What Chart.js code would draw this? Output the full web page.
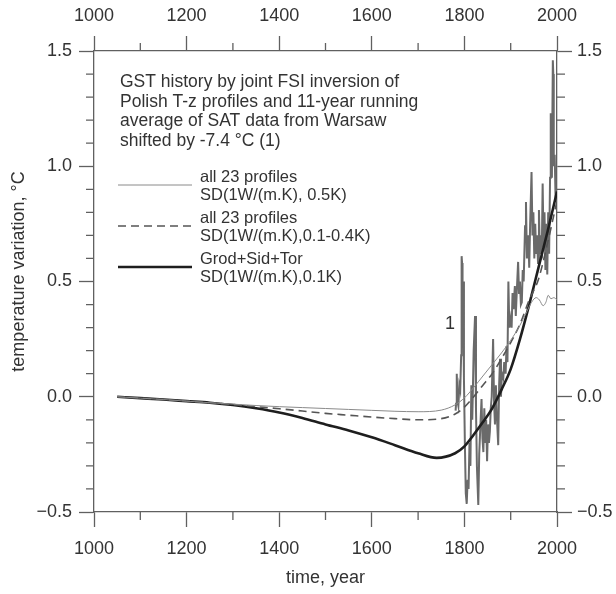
<!DOCTYPE html>
<html>
<head>
<meta charset="utf-8">
<script src="https://cdn.jsdelivr.net/npm/chart.js@4.4.1/dist/chart.umd.min.js"></script>
<style>
  html, body { margin: 0; padding: 0; background: #ffffff; }
  #wrap { width: 616px; height: 594px; }
</style>
</head>
<body>
<div id="wrap"><canvas id="c" width="616" height="594"></canvas></div>
<script>
// ---- data ----
const xTickLabels = [1000, 1200, 1400, 1600, 1800, 2000];
const yTickLabels = [-0.5, 0.0, 0.5, 1.0, 1.5];

// all 23 profiles, SD(1W/(m.K), 0.5K) - thin solid
const yearsA = [1050,1100,1150,1200,1250,1300,1350,1400,1450,1500,1550,1600,1650,1700,1750,1780,1800,1820,1840,1860,1880,1900,1920,1935,1945,1955,1962,1970,1976,1981,1987,1993,2000];
const valsA  = [0,-0.006,-0.012,-0.019,-0.026,-0.032,-0.038,-0.043,-0.047,-0.051,-0.055,-0.059,-0.063,-0.065,-0.058,-0.035,-0.005,0.04,0.09,0.14,0.19,0.245,0.31,0.37,0.41,0.43,0.42,0.395,0.41,0.44,0.425,0.43,0.42];

// all 23 profiles, SD(1W/(m.K),0.1-0.4K) - dashed
const yearsB = [1050,1100,1150,1200,1250,1300,1350,1400,1450,1500,1550,1600,1650,1700,1750,1780,1800,1820,1840,1860,1880,1900,1920,1940,1960,1980,2000];
const valsB  = [0,-0.006,-0.012,-0.019,-0.026,-0.034,-0.043,-0.052,-0.062,-0.072,-0.08,-0.088,-0.095,-0.1,-0.095,-0.075,-0.045,0.0,0.05,0.1,0.165,0.235,0.315,0.42,0.51,0.67,0.85];

// Grod+Sid+Tor, SD(1W/(m.K),0.1K) - thick solid
const yearsC = [1050,1100,1150,1200,1250,1300,1350,1400,1450,1500,1550,1600,1650,1700,1740,1780,1800,1820,1840,1860,1880,1900,1920,1940,1960,1980,2000];
const valsC  = [0,-0.006,-0.012,-0.019,-0.026,-0.036,-0.05,-0.068,-0.092,-0.12,-0.146,-0.176,-0.21,-0.245,-0.265,-0.245,-0.215,-0.165,-0.11,-0.05,0.03,0.12,0.25,0.4,0.56,0.72,0.89];

// (1) 11-year running average of SAT, Warsaw, shifted by -7.4 °C
const yearsSAT = [1781,1782,1783,1784,1785,1787,1789,1791,1793,1794,1795,1796,1797,1799,1801,1803,1805,1807,1809,1811,1813,1815,1817,1820,1823,1825,1827,1830,1832,1834,1837,1839,1841,1843,1845,1847,1849,1851,1853,1855,1857,1859,1862,1864,1866,1868,1870,1873,1875,1877,1879,1881,1884,1886,1889,1891,1893,1895,1897,1900,1902,1904,1906,1909,1911,1913,1916,1918,1920,1922,1924,1926,1928,1931,1933,1935,1938,1940,1942,1945,1947,1949,1951,1953,1955,1957,1959,1961,1963,1965,1967,1969,1971,1973,1975,1977,1979,1981,1983,1985,1986,1987,1988,1989,1991,1992,1993,1995,1997,1999];
const valsSAT  = [-0.06,-0.03,0.07,0.10,-0.02,-0.04,0.05,0.03,0.18,0.61,0.58,0.30,0.50,0.08,-0.20,-0.42,-0.465,-0.36,-0.40,-0.20,-0.30,0.05,-0.10,0.20,0.35,-0.05,-0.30,-0.47,-0.25,-0.15,-0.01,-0.18,-0.24,-0.05,-0.20,-0.10,-0.28,-0.12,-0.20,-0.15,-0.05,0.00,0.25,-0.02,-0.12,0.05,-0.08,-0.21,0.05,0.165,0.0,0.10,0.08,0.15,0.10,0.22,0.15,0.50,0.30,0.34,0.30,0.45,0.38,0.48,0.35,0.45,0.585,0.45,0.50,0.40,0.41,0.55,0.50,0.74,0.845,0.60,0.70,0.56,0.75,0.975,0.70,0.80,0.60,0.75,0.62,0.70,0.58,0.81,0.62,0.70,0.60,0.925,0.65,0.80,0.55,0.75,0.53,0.80,0.62,0.95,1.23,1.13,1.20,0.95,1.46,1.40,1.00,1.05,0.85,0.88];

const annotationLines = [
  'GST history by joint FSI inversion of',
  'Polish T-z profiles and 11-year running',
  'average of SAT data from Warsaw',
  'shifted by -7.4 \u00B0C (1)'
];
const legendItems = [
  ['all 23 profiles', 'SD(1W/(m.K), 0.5K)'],
  ['all 23 profiles', 'SD(1W/(m.K),0.1-0.4K)'],
  ['Grod+Sid+Tor', 'SD(1W/(m.K),0.1K)']
];
const seriesLabel = '1';
const xTitle = 'time, year';
const yTitle = '    temperature variation, \u00B0C';

// ---- build ----
const pts = (xs, ys) => xs.map((v, i) => ({x: v, y: ys[i]}));
const FONT = "'Liberation Sans', Arial, Helvetica, sans-serif";
const AXIS = '#606060';
const TEXT = '#333333';

const styleA = {color: '#8a8a8a', width: 1, dash: []};
const styleB = {color: '#555555', width: 1.6, dash: [8, 5]};
const styleC = {color: '#1e1e1e', width: 2.6, dash: []};

const fmtY = v => { const s = Math.abs(v).toFixed(1); return v < 0 ? '\u2212' + s : s; };

function xScale(pos, h) {
  return {
    type: 'linear', position: pos, min: 1000, max: 2000,
    afterBuildTicks: s => { s.ticks = xTickLabels.map(v => ({value: v})); },
    afterFit: s => { s.height = h; },
    grid: { drawOnChartArea: false, drawTicks: true, tickLength: 15, tickColor: AXIS, tickWidth: 1.3 },
    border: { display: true, color: AXIS, width: 1.3 },
    ticks: { color: TEXT, font: {family: FONT, size: 18}, padding: pos === 'bottom' ? 11 : 9, maxRotation: 0, autoSkip: false, callback: v => String(v) },
    title: pos === 'bottom' ? { display: true, text: xTitle, color: TEXT, font: {family: FONT, size: 18}, padding: {top: 0, bottom: 5} } : {display: false}
  };
}
function yScale(pos, w) {
  return {
    type: 'linear', position: pos, min: -0.5, max: 1.5,
    afterBuildTicks: s => { s.ticks = yTickLabels.map(v => ({value: v})); },
    afterFit: s => { s.width = w; },
    grid: { drawOnChartArea: false, drawTicks: true, tickLength: 15, tickColor: AXIS, tickWidth: 1.3 },
    border: { display: true, color: AXIS, width: 1.3 },
    ticks: { color: TEXT, font: {family: FONT, size: 18}, padding: pos === 'left' ? 7 : 5, callback: v => fmtY(v) },
    title: pos === 'left' ? { display: true, text: yTitle, color: TEXT, font: {family: FONT, size: 18}, padding: {top: 8, bottom: 0} } : {display: false}
  };
}

const extras = {
  id: 'extras',
  afterDraw(chart) {
    const ctx = chart.ctx;
    const a = chart.chartArea;
    const sx = chart.scales.x, sy = chart.scales.y;
    ctx.save();
    // minor ticks
    ctx.strokeStyle = AXIS; ctx.lineWidth = 1.3; ctx.setLineDash([]);
    for (let v = 1100; v < 2000; v += 200) {
      const px = sx.getPixelForValue(v);
      ctx.beginPath();
      ctx.moveTo(px, a.bottom); ctx.lineTo(px, a.bottom + 8);
      ctx.moveTo(px, a.top); ctx.lineTo(px, a.top - 8);
      ctx.stroke();
    }
    for (let k = -4; k <= 14; k++) {
      if (k % 5 === 0) continue;
      const py = sy.getPixelForValue(k / 10);
      ctx.beginPath();
      ctx.moveTo(a.left, py); ctx.lineTo(a.left - 8, py);
      ctx.moveTo(a.right, py); ctx.lineTo(a.right + 8, py);
      ctx.stroke();
    }
    // annotation text
    ctx.fillStyle = TEXT;
    ctx.textBaseline = 'middle';
    ctx.textAlign = 'left';
    ctx.font = '17.5px ' + FONT;
    annotationLines.forEach((t, i) => ctx.fillText(t, 120, 82 + i * 19.7));
    // legend
    const styles = [styleA, styleB, styleC];
    const ys = [177, 218, 259];
    ctx.font = '16.5px ' + FONT;
    legendItems.forEach((lines, i) => {
      const st = styles[i];
      const ly = ys[i] + 8;
      ctx.beginPath();
      ctx.strokeStyle = st.color; ctx.lineWidth = st.width; ctx.setLineDash(st.dash);
      ctx.moveTo(118, ly); ctx.lineTo(192, ly); ctx.stroke();
      ctx.setLineDash([]);
      ctx.fillStyle = TEXT;
      ctx.fillText(lines[0], 200, ys[i]);
      ctx.fillText(lines[1], 200, ys[i] + 18);
    });
    // series label "1"
    ctx.font = '18px ' + FONT;
    ctx.fillText(seriesLabel, 445, 324);
    ctx.restore();
  }
};

new Chart(document.getElementById('c'), {
  type: 'line',
  data: {
    datasets: [
      { label: 'A', data: pts(yearsA, valsA), borderColor: styleA.color, borderWidth: styleA.width, pointRadius: 0, cubicInterpolationMode: 'monotone', fill: false, xAxisID: 'x', yAxisID: 'y' },
      { label: 'B', data: pts(yearsB, valsB), borderColor: styleB.color, borderWidth: styleB.width, borderDash: styleB.dash, pointRadius: 0, cubicInterpolationMode: 'monotone', fill: false, xAxisID: 'x', yAxisID: 'y' },
      { label: 'C', data: pts(yearsC, valsC), borderColor: styleC.color, borderWidth: styleC.width, pointRadius: 0, cubicInterpolationMode: 'monotone', fill: false, xAxisID: 'x', yAxisID: 'y' },
      { label: 'SAT', data: pts(yearsSAT, valsSAT), borderColor: '#6a6a6a', borderWidth: 2, pointRadius: 0, tension: 0, fill: false, xAxisID: 'x', yAxisID: 'y' }
    ]
  },
  options: {
    responsive: false, animation: false, devicePixelRatio: 1,
    layout: { padding: 0 },
    plugins: { legend: { display: false }, tooltip: { enabled: false } },
    scales: {
      x: xScale('bottom', 82),
      x2: xScale('top', 51),
      y: yScale('left', 94),
      y2: yScale('right', 59)
    }
  },
  plugins: [extras]
});
</script>
</body>
</html>
